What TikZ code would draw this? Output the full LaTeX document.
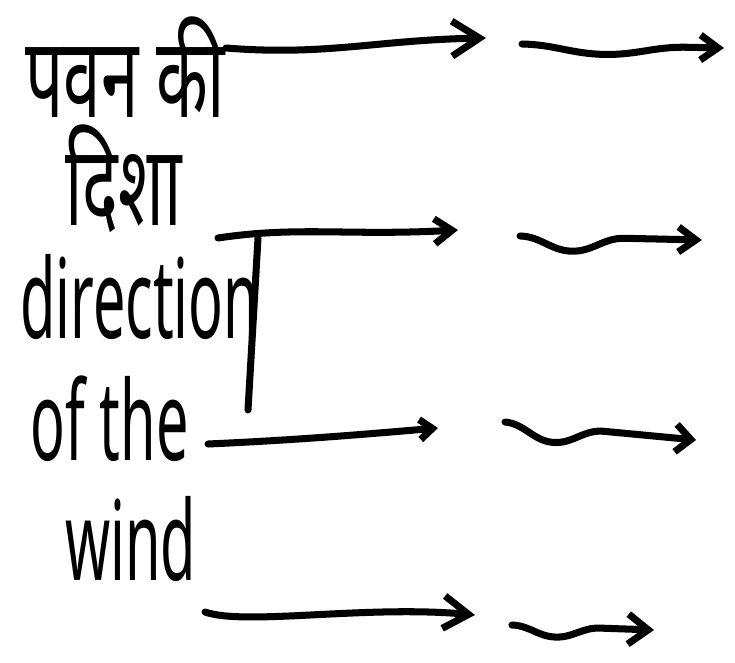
\documentclass[tikz,border=0pt]{standalone}
\usepackage{fontspec}
\setmainfont{Noto Sans}
\newfontfamily\hindifont[Script=Devanagari]{Noto Sans}
\usetikzlibrary{arrows.meta, decorations.pathmorphing}
\tikzset{
  hlbl/.style={anchor=base west, inner sep=0pt, text depth=0pt, font=\hindifont\fontsize{64}{66}\selectfont, xscale=0.6},
  elbl/.style={anchor=base west, inner sep=0pt, font=\fontsize{63}{65}\selectfont, xscale=0.52},
  warr/.style 2 args={-{Straight Barb[length=#1, width=#2]}, line width=4pt, line cap=round, line join=round},
  wavy/.style 2 args={decorate, decoration={snake, segment length=#1, amplitude=#2, post length=3mm}},
  wallln/.style={line width=4pt, line cap=round},
}
\begin{document}
\begin{tikzpicture}[x=0.02cm, y=-0.02cm]
  \useasboundingbox (0,0) rectangle (735,663);
  % labels
  \node[hlbl] (h1) at (25,117) {पवन की};
  \node[hlbl] (h2) at (65,225) {दिशा};
  \node[elbl] (e1) at (20,338) {direction};
  \node[elbl] (e2) at (30,460) {of the};
  \node[elbl] (e3) at (65,580) {wind};
  % stroke beside the text
  \coordinate (vtop) at (258,238);
  \coordinate (vbot) at (248,410);
  \draw[wallln] (vtop) -- (vbot);
  % arrow ends
  \coordinate (a1) at (226,48);  \coordinate (b1) at (486,38);
  \coordinate (a2) at (218,238); \coordinate (b2) at (458,230);
  \coordinate (a3) at (208,444); \coordinate (b3) at (438,428);
  \coordinate (a4) at (205,612); \coordinate (b4) at (475,615);
  \coordinate (c1) at (522,44);  \coordinate (d1) at (724,48);
  \coordinate (c2) at (520,236); \coordinate (d2) at (702,240);
  \coordinate (c3) at (505,422); \coordinate (d3) at (696,440);
  \coordinate (c4) at (512,625); \coordinate (d4) at (654,630);
  % near arrows
  \draw[warr={5.5mm}{7mm}] (a1) .. controls +(100,8) and +(-110,2) .. (b1);
  \draw[warr={3.5mm}{5mm}] (a2) .. controls +(80,-12) and +(-110,6) .. (b2);
  \draw[warr={2.5mm}{4mm}] (a3) .. controls +(90,-4) and +(-70,6) .. (b3);
  \draw[warr={5mm}{6.5mm}] (a4) .. controls +(40,14) and +(-110,-10) .. (b4);
  % far wavy arrows
  \draw[warr={3.5mm}{5mm}, wavy={150}{-5}] (c1) -- (d1);
  \draw[warr={3.5mm}{5mm}, wavy={95}{-8}] (c2) -- (d2);
  \draw[warr={3mm}{5.5mm}, wavy={90}{-9}] (c3) -- (d3);
  \draw[warr={4mm}{6mm}, wavy={80}{-6}] (c4) -- (d4);
\end{tikzpicture}
\end{document}
